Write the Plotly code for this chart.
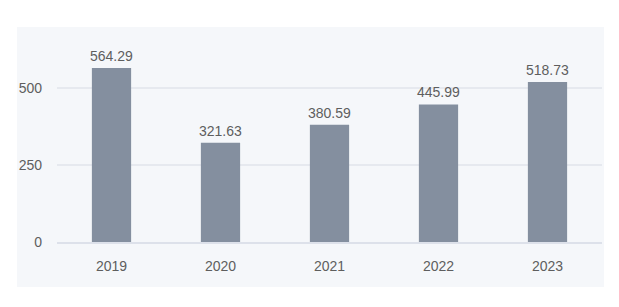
import plotly.graph_objects as go

years = ["2019", "2020", "2021", "2022", "2023"]
values = [564.29, 321.63, 380.59, 445.99, 518.73]
tick_vals = [0, 250, 500]

W, H = 619, 307
L, R, T, B = 57, 17, 57, 65
pw = W - L - R
ph = H - T - B
FONT = "Liberation Sans, Arial, sans-serif"
TXT = "#5e5e5e"

fig = go.Figure()
fig.add_trace(go.Bar(
    x=years, y=values,
    marker=dict(color="#848f9f", line=dict(width=0)),
    width=0.36,
))

# value labels: category index positions on the category axis
for i, v in enumerate(values):
    fig.add_annotation(x=i, y=v, text=f"{v:.2f}", showarrow=False,
                       yanchor="bottom", yshift=2,
                       font=dict(family=FONT, size=14, color=TXT))

# light panel background
fig.add_shape(type="rect", xref="paper", yref="paper",
              x0=(17 - L) / pw, x1=(604 - L) / pw,
              y0=(H - B - 287) / ph, y1=(H - B - 27) / ph,
              fillcolor="#f5f7fa", line=dict(width=0), layer="below")

fig.update_layout(
    width=W, height=H,
    margin=dict(l=L, r=R, t=T, b=B),
    paper_bgcolor="white",
    plot_bgcolor="rgba(0,0,0,0)",
    showlegend=False,
    font=dict(family=FONT, size=14, color=TXT),
    xaxis=dict(type="category", range=[-0.5, len(years) - 0.5], showgrid=False,
               showline=True, linecolor="#dde1ea", linewidth=1.5,
               ticks="", ticklabelstandoff=10, tickfont=dict(size=14, color=TXT)),
    yaxis=dict(range=[0, 600], tickvals=tick_vals, showgrid=True, gridcolor="#e6e9ef",
               gridwidth=1.5, zeroline=False, showline=False, ticks="", ticklabelstandoff=14,
               tickfont=dict(size=14, color=TXT)),
)
fig.write_html("out.html")
